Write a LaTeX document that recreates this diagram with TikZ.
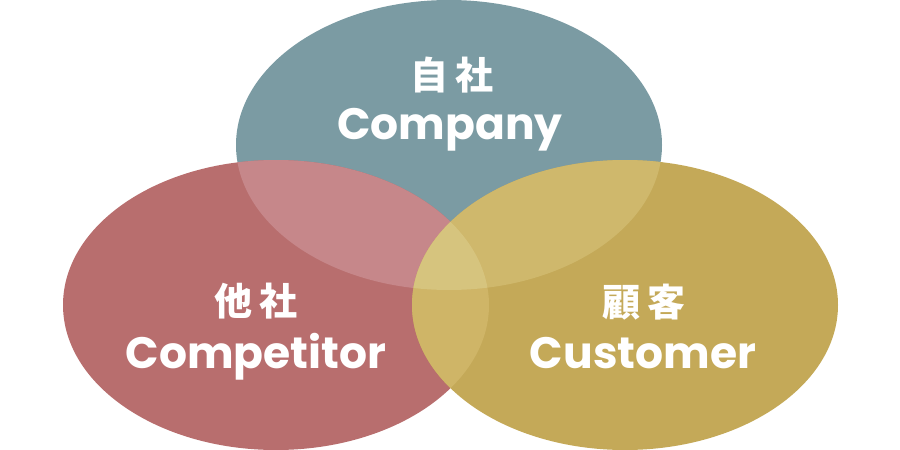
\documentclass[tikz,border=0pt]{standalone}
\usepackage{fontspec}
\setmainfont{Poppins}
\newfontfamily\jpfont{Noto Sans CJK JP}
\usetikzlibrary{positioning}
\definecolor{slate}{HTML}{7B9BA3}
\definecolor{rose}{HTML}{B86E6E}
\definecolor{ochre}{HTML}{C4A958}
\definecolor{roseslate}{HTML}{C6878A}
\definecolor{ochreslate}{HTML}{CFB86C}
\definecolor{ochrerose}{HTML}{CFB567}
\definecolor{core}{HTML}{D6C47E}
\tikzset{jplabel/.style={text=white,inner sep=0pt,font=\jpfont\bfseries\fontsize{38}{40}\selectfont},
enlabel/.style={text=white,inner sep=0pt,anchor=base,font=\bfseries\fontsize{44}{48}\selectfont}}
\newcommand\topell{(449,145) ellipse [x radius=213,y radius=145]}
\newcommand\leftell{(276,305) ellipse [x radius=213,y radius=145]}
\newcommand\rightell{(625,305) ellipse [x radius=213,y radius=145]}

\begin{document}
\begin{tikzpicture}[x=1pt,y=-1pt]
\useasboundingbox (0,0) rectangle (900,450);
\fill[slate] \topell;
\fill[rose] \leftell;
\fill[ochre] \rightell;
% overlaps
\begin{scope}
\clip \topell;
\fill[roseslate] \leftell;
\fill[ochreslate] \rightell;
\end{scope}
\begin{scope}
\clip \leftell;
\fill[ochrerose] \rightell;
\clip \rightell;
\fill[core] \topell;
\end{scope}
% labels
\node[enlabel] (company) at (450,139) {Company};
\node[jplabel] (jisha) at (452,75) {自\hspace{8pt}社};
\node[enlabel] (competitor) at (256,368) {Competitor};
\node[jplabel] (tasha) at (256,301) {他\hspace{8pt}社};
\node[enlabel] (customer) at (643,368) {Customer};
\node[jplabel] (kokyaku) at (644,302) {顧\hspace{8pt}客};
\end{tikzpicture}
\end{document}
